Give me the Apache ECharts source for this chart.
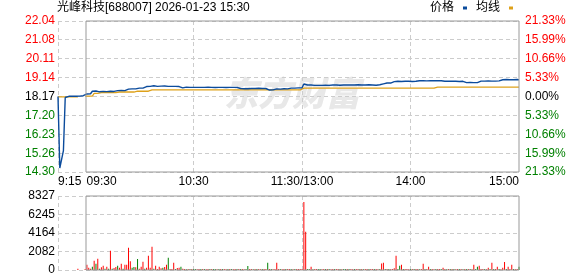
<!DOCTYPE html>
<html><head><meta charset="utf-8">
<script src="https://cdn.jsdelivr.net/npm/echarts@6/dist/echarts.min.js"></script>
<style>html,body{margin:0;padding:0;background:#fff}#c{width:578px;height:276px}</style>
</head><body><div id="c"></div>
<script>
const TITLE = '光峰科技[688007] 2026-01-23 15:30';
const PRE_CLOSE = 18.17;
const OPEN_INDEX = 15;          // 9:30 is minute 15 after 9:15
const TIME_TICKS = [0, 15, 75, 135, 195, 255];
const TIME_LABELS = ['9:15', '09:30', '10:30', '11:30/13:00', '14:00', '15:00'];
const GRID_TIMES = [0, 75, 135, 195];
const PRICE_TICK_LABELS = ['14.30', '15.26', '16.23', '17.20', '18.17', '19.14', '20.11', '21.08', '22.04'];
const PCT_TICK_LABELS = ['21.33%', '15.99%', '10.66%', '5.33%', '0.00%', '5.33%', '10.66%', '15.99%', '21.33%'];
const VOLUME_TICK_LABELS = ['0', '2082', '4164', '6245', '8327'];
const VOLUME_MAX = 8327;

// pre-market (9:15 - 9:29)
const PRE_PRICE = [18.17, 14.50, 14.50, 15.40, 18.12, 18.17, 18.18, 18.18, 18.18, 18.18, 18.18, 18.18, 18.19, 18.20, 18.21];
const PRE_AVG = [18.15, 18.15, 18.15, 18.15, 18.15, 18.15, 18.15, 18.15, 18.15, 18.15, 18.15, 18.15, null, null, null];
const PRE_VOLUME = [0, 0, 0, 0, 0, 0, 0, 0, 0, 0, 0, 150, 0, 0, 0];
const PRE_DIR = 'rrrrrrrrrrrrrrr';

// continuous session, one value per minute (9:30 ... 11:30/13:00 ... 15:00)
const PRICE = [
  18.23, 18.30, 18.30, 18.31, 18.44, 18.44, 18.45, 18.44, 18.41, 18.41,
  18.43, 18.43, 18.42, 18.43, 18.44, 18.43, 18.43, 18.44, 18.47, 18.47,
  18.48, 18.47, 18.47, 18.53, 18.55, 18.55, 18.56, 18.55, 18.56, 18.60,
  18.60, 18.61, 18.60, 18.69, 18.68, 18.64, 18.69, 18.70, 18.72, 18.70,
  18.69, 18.69, 18.70, 18.69, 18.71, 18.69, 18.69, 18.70, 18.69, 18.68,
  18.69, 18.69, 18.68, 18.60, 18.61, 18.64, 18.65, 18.64, 18.64, 18.63,
  18.64, 18.65, 18.64, 18.64, 18.64, 18.63, 18.64, 18.64, 18.65, 18.64,
  18.64, 18.64, 18.63, 18.64, 18.64, 18.65, 18.64, 18.64, 18.63, 18.64,
  18.64, 18.64, 18.64, 18.63, 18.64, 18.57, 18.58, 18.57, 18.57, 18.56,
  18.57, 18.57, 18.58, 18.59, 18.58, 18.58, 18.59, 18.58, 18.58, 18.59,
  18.58, 18.57, 18.50, 18.50, 18.51, 18.55, 18.56, 18.56, 18.55, 18.56,
  18.57, 18.56, 18.56, 18.60, 18.60, 18.61, 18.60, 18.60, 18.61, 18.62,
  18.62, 18.81, 18.78, 18.76, 18.77, 18.76, 18.76, 18.74, 18.75, 18.74,
  18.73, 18.74, 18.74, 18.75, 18.74, 18.74, 18.75, 18.76, 18.77, 18.76,
  18.76, 18.75, 18.76, 18.76, 18.77, 18.76, 18.76, 18.76, 18.75, 18.76,
  18.76, 18.77, 18.76, 18.76, 18.75, 18.76, 18.76, 18.77, 18.76, 18.76,
  18.76, 18.75, 18.76, 18.77, 18.81, 18.82, 18.86, 18.86, 18.87, 18.86,
  18.86, 18.93, 18.98, 18.95, 18.95, 18.94, 18.95, 18.95, 18.96, 18.95,
  18.95, 18.94, 18.95, 18.95, 18.98, 18.98, 18.99, 18.98, 18.98, 18.97,
  18.98, 18.98, 18.99, 18.98, 18.98, 18.98, 18.97, 18.98, 18.95, 18.95,
  18.94, 18.95, 18.95, 18.95, 18.96, 18.95, 18.95, 18.94, 18.95, 18.95,
  18.95, 18.88, 18.88, 18.89, 18.88, 18.88, 18.87, 18.88, 18.96, 18.96,
  18.95, 18.96, 18.96, 18.97, 18.96, 18.96, 18.95, 18.96, 18.96, 18.97,
  18.96, 19.03, 19.03, 19.04, 19.03, 19.03, 19.02, 19.03, 19.03, 19.04,
  19.02
];
const AVG = [
  18.19, 18.19, 18.19, 18.19, 18.19, 18.33, 18.33, 18.33, 18.37, 18.37,
  18.37, 18.37, 18.37, 18.37, 18.37, 18.37, 18.37, 18.37, 18.40, 18.40,
  18.40, 18.40, 18.40, 18.40, 18.40, 18.40, 18.40, 18.40, 18.40, 18.44,
  18.44, 18.44, 18.44, 18.44, 18.44, 18.44, 18.51, 18.51, 18.51, 18.51,
  18.51, 18.51, 18.51, 18.51, 18.51, 18.51, 18.51, 18.51, 18.51, 18.51,
  18.51, 18.51, 18.51, 18.51, 18.51, 18.51, 18.51, 18.51, 18.51, 18.51,
  18.51, 18.51, 18.51, 18.51, 18.51, 18.51, 18.51, 18.51, 18.51, 18.51,
  18.51, 18.51, 18.51, 18.51, 18.51, 18.51, 18.51, 18.51, 18.51, 18.51,
  18.51, 18.51, 18.51, 18.51, 18.51, 18.51, 18.51, 18.51, 18.51, 18.51,
  18.51, 18.51, 18.51, 18.51, 18.51, 18.51, 18.51, 18.51, 18.51, 18.51,
  18.51, 18.51, 18.51, 18.51, 18.51, 18.51, 18.51, 18.51, 18.51, 18.51,
  18.51, 18.51, 18.51, 18.51, 18.51, 18.51, 18.51, 18.51, 18.51, 18.51,
  18.51, 18.60, 18.60, 18.60, 18.60, 18.60, 18.60, 18.60, 18.60, 18.60,
  18.60, 18.60, 18.60, 18.60, 18.60, 18.60, 18.60, 18.60, 18.60, 18.60,
  18.60, 18.60, 18.60, 18.60, 18.60, 18.60, 18.60, 18.60, 18.60, 18.60,
  18.60, 18.60, 18.60, 18.60, 18.60, 18.60, 18.60, 18.60, 18.60, 18.60,
  18.60, 18.60, 18.60, 18.60, 18.60, 18.60, 18.60, 18.60, 18.60, 18.60,
  18.60, 18.60, 18.60, 18.60, 18.60, 18.60, 18.60, 18.60, 18.60, 18.60,
  18.60, 18.60, 18.60, 18.60, 18.60, 18.60, 18.60, 18.60, 18.60, 18.60,
  18.60, 18.60, 18.60, 18.60, 18.65, 18.65, 18.65, 18.65, 18.65, 18.65,
  18.65, 18.65, 18.65, 18.65, 18.65, 18.65, 18.65, 18.65, 18.65, 18.65,
  18.65, 18.65, 18.65, 18.65, 18.65, 18.65, 18.65, 18.65, 18.65, 18.65,
  18.65, 18.65, 18.65, 18.65, 18.65, 18.65, 18.65, 18.65, 18.65, 18.65,
  18.65, 18.65, 18.65, 18.65, 18.65, 18.65, 18.65, 18.65, 18.65, 18.65,
  18.65
];
const VOLUME = [
  120, 600, 260, 150, 375, 1050, 710, 1275, 150, 300,
  490, 150, 375, 150, 2175, 150, 225, 340, 490, 260,
  710, 150, 600, 600, 2510, 975, 260, 340, 300, 1240,
  150, 375, 940, 150, 260, 1610, 260, 2625, 150, 490,
  100, 375, 200, 260, 340, 600, 1390, 100, 100, 825,
  100, 220, 260, 375, 150, 110, 90, 100, 120, 100,
  110, 100, 90, 120, 100, 110, 100, 90, 100, 110,
  100, 120, 100, 90, 110, 100, 100, 120, 90, 100,
  110, 100, 90, 100, 120, 100, 110, 100, 90, 100,
  450, 100, 110, 90, 100, 120, 100, 90, 110, 100,
  120, 820, 100, 110, 90, 100, 820, 100, 110, 90,
  100, 120, 100, 110, 100, 90, 100, 110, 120, 100,
  100, 7650, 4300, 110, 100, 375, 90, 100, 110, 100,
  100, 90, 110, 100, 120, 100, 90, 100, 110, 100,
  100, 110, 90, 100, 120, 100, 110, 100, 90, 100,
  110, 100, 120, 100, 90, 110, 100, 100, 120, 100,
  100, 110, 90, 100, 735, 825, 100, 110, 100, 90,
  110, 200, 1610, 100, 490, 600, 100, 110, 100, 90,
  100, 110, 100, 120, 100, 90, 110, 710, 100, 100,
  375, 100, 110, 90, 100, 120, 100, 110, 260, 100,
  90, 110, 100, 120, 100, 90, 100, 110, 100, 90,
  100, 110, 100, 120, 90, 600, 100, 375, 490, 100,
  110, 100, 90, 260, 100, 825, 110, 100, 375, 100,
  90, 260, 900, 100, 375, 110, 600, 100, 90, 110,
  375
];
// r = up minute (red bar), g = down minute (green bar)
const VOLUME_DIR = [
  'rrrrgrgrgr', 'rgrgrgrrgr', 'rgrrrrggrg', 'rrrgrrrrgr', 'rrrgrrgrrr',
  'grrgrrgrgr', 'ggrrgrgrrg', 'rggrgrgrrg', 'rgrrgrgrrg', 'grrgrgrrgr',
  'rgrgrrrrgr', 'rgrrgrgrrr', 'rrrggrgrrg', 'grrgrgrrgr', 'rgrggrgrrg',
  'rrgrgrrgrr', 'grrgrrgrgr', 'rrrggrgrrr', 'grgrrgrrgr', 'rgrrgrrgrr',
  'grgrgrrgrg', 'rgrgrrggrr', 'rgrrgrgrrg', 'rrrgrrrgrr', 'g'
].join('');

const UP = '#ff0000', DOWN = '#008000', FLAT = '#000000';
const PRICE_TICKS = PRICE_TICK_LABELS.map(Number);
const VOL_INTERVAL = VOLUME_MAX / (VOLUME_TICK_LABELS.length - 1);

function nearestIndex(arr, v) {
  let best = 0;
  for (let i = 1; i < arr.length; i++) if (Math.abs(arr[i] - v) < Math.abs(arr[best] - v)) best = i;
  return best;
}
function priceColor(v) {
  if (v > PRE_CLOSE + 0.001) return UP;
  if (v < PRE_CLOSE - 0.001) return DOWN;
  return FLAT;
}

const priceData = PRE_PRICE.map((v, i) => [i, v]).concat(PRICE.map((v, i) => [OPEN_INDEX + i, v]));
const avgData = PRE_AVG.map((v, i) => [i, v]).concat(AVG.map((v, i) => [OPEN_INDEX + i, v]));
const volData = PRE_VOLUME.map((v, i) => ({ value: [i, v], itemStyle: { color: PRE_DIR[i] === 'r' ? UP : DOWN } }))
  .concat(VOLUME.map((v, i) => ({ value: [OPEN_INDEX + i, v], itemStyle: { color: VOLUME_DIR[i] === 'g' ? DOWN : UP } })));

const FONT = '"Liberation Sans", "Noto Sans CJK SC", sans-serif';
const dash = { type: [4, 3], color: '#cccccc', width: 1 };
const X_MAX = TIME_TICKS[TIME_TICKS.length - 1];

const chart = echarts.init(document.getElementById('c'), null, { renderer: 'canvas' });
chart.setOption({
  animation: false,
  backgroundColor: '#fff',
  title: {
    text: TITLE, left: 57, top: 2, padding: 0,
    textStyle: { fontSize: 12, fontWeight: 'normal', color: '#000', fontFamily: FONT }
  },
  legend: {
    data: ['价格', '均线'], right: 65, top: 2, padding: 0,
    icon: 'rect', itemWidth: 4, itemHeight: 3, itemGap: 9, align: 'right',
    textStyle: { fontSize: 12, color: '#000', fontFamily: FONT, padding: [0, 4, 0, 0] }
  },
  graphic: [{
    type: 'text', left: 224, top: 76, z: -10, silent: true,
    style: { text: '东方财富', fill: '#e8e8e8', font: 'italic 900 34px "Noto Sans CJK SC"' }
  }],
  grid: [
    { left: 58, top: 21, width: 461, height: 151 },
    { left: 86, top: 21, width: 433, height: 151, show: true, borderColor: '#999999', borderWidth: 1, backgroundColor: 'transparent', z: 5 },
    { left: 58, top: 196, width: 461, height: 74 },
    { left: 86, top: 196, width: 433, height: 74, show: true, borderColor: '#999999', borderWidth: 1, backgroundColor: 'transparent', z: 5 }
  ],
  xAxis: [
    {
      gridIndex: 0, type: 'value', min: 0, max: X_MAX,
      axisLine: { show: false },
      axisTick: { show: false, customValues: GRID_TIMES },
      splitLine: { show: true, lineStyle: dash },
      axisLabel: {
        customValues: TIME_TICKS, margin: 4, color: '#000', fontSize: 12, fontFamily: FONT,
        alignMinLabel: 'left', alignMaxLabel: 'right', showMinLabel: true, showMaxLabel: true, hideOverlap: false,
        formatter: v => {
          const i = nearestIndex(TIME_TICKS, v);
          return i === 1 ? '{s|' + TIME_LABELS[i] + '}' : TIME_LABELS[i];
        },
        rich: { s: { padding: [0, 0, 0, 33], fontSize: 12, fontFamily: FONT, color: '#000' } }
      }
    },
    { gridIndex: 1, type: 'value', min: 0, max: 1, show: false },
    {
      gridIndex: 2, type: 'value', min: 0, max: X_MAX,
      axisLine: { show: false },
      axisTick: { show: false, customValues: GRID_TIMES },
      splitLine: { show: true, lineStyle: dash },
      axisLabel: { show: false }
    },
    { gridIndex: 3, type: 'value', min: 0, max: 1, show: false }
  ],
  yAxis: [
    {
      gridIndex: 0, type: 'value', min: PRICE_TICKS[0], max: PRICE_TICKS[PRICE_TICKS.length - 1],
      axisLine: { show: false },
      axisTick: { show: false, customValues: PRICE_TICKS },
      splitLine: { show: true, lineStyle: dash },
      axisLabel: {
        customValues: PRICE_TICKS, margin: 3, fontSize: 12, fontFamily: FONT,
        formatter: v => PRICE_TICK_LABELS[nearestIndex(PRICE_TICKS, v)],
        color: v => priceColor(v)
      }
    },
    {
      gridIndex: 0, type: 'value', position: 'right', min: PRICE_TICKS[0], max: PRICE_TICKS[PRICE_TICKS.length - 1],
      axisLine: { show: false },
      axisTick: { show: false, customValues: PRICE_TICKS },
      splitLine: { show: false },
      axisLabel: {
        customValues: PRICE_TICKS, margin: 6, fontSize: 12, fontFamily: FONT,
        formatter: v => PCT_TICK_LABELS[nearestIndex(PRICE_TICKS, v)],
        color: v => priceColor(v)
      }
    },
    { gridIndex: 1, type: 'value', min: 0, max: 1, show: false },
    {
      gridIndex: 2, type: 'value', min: 0, max: VOLUME_MAX, interval: VOL_INTERVAL,
      axisLine: { show: false }, axisTick: { show: false },
      splitLine: { show: true, lineStyle: dash },
      axisLabel: {
        margin: 3, fontSize: 12, fontFamily: FONT, color: '#000',
        formatter: v => VOLUME_TICK_LABELS[Math.round(v / VOL_INTERVAL)]
      }
    },
    { gridIndex: 3, type: 'value', min: 0, max: 1, show: false }
  ],
  series: [
    {
      name: '均线', type: 'line', xAxisIndex: 0, yAxisIndex: 0, data: avgData,
      showSymbol: false, symbol: 'none', connectNulls: false,
      lineStyle: { color: '#dea11a', width: 1.3 }, itemStyle: { color: '#dea11a' }, z: 3
    },
    {
      name: '价格', type: 'line', xAxisIndex: 0, yAxisIndex: 0, data: priceData,
      showSymbol: false, symbol: 'none',
      lineStyle: { color: '#0b4b9c', width: 1.4 }, itemStyle: { color: '#0b4b9c' }, z: 4
    },
    {
      name: '成交量', type: 'bar', xAxisIndex: 2, yAxisIndex: 3, data: volData,
      barWidth: 1, z: 3
    }
  ]
});
</script>
</body></html>
